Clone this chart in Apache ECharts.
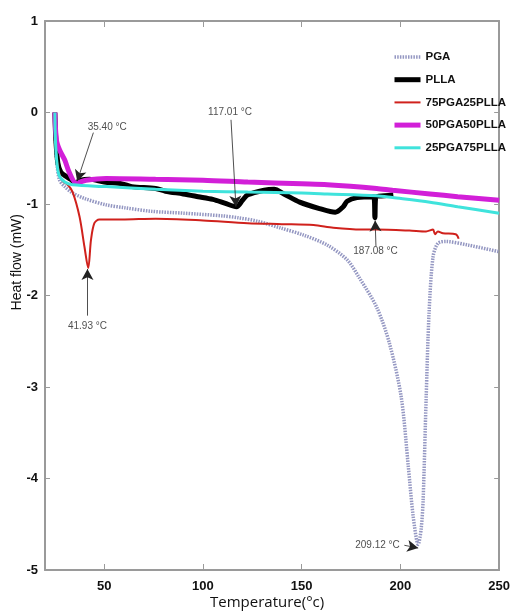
<!DOCTYPE html>
<html><head><meta charset="utf-8">
<script src="https://cdn.jsdelivr.net/npm/echarts@6/dist/echarts.min.js"></script>
<style>html,body{margin:0;padding:0;background:#fff}#c{width:513px;height:616px}</style>
</head><body><div id="c"></div>
<script>
// ---- data ----
const xTicks = [50, 100, 150, 200, 250];
const yTicks = [-5, -4, -3, -2, -1, 0, 1];
const seriesNames = ['PGA', 'PLLA', '75PGA25PLLA', '50PGA50PLLA', '25PGA75PLLA'];

const pgaT = [24.9,25.3,26,27.4,30,34,40,51,60,74,90,110,117.7,128,139,151,163,173,179,188,194.4,200.4,204,206.5,209,210.5,211.5,213,214.5,216.5,219,223,234.5,249.6];
const pgaV = [0,-0.3,-0.55,-0.74,-0.81,-0.88,-0.94,-1.01,-1.04,-1.08,-1.10,-1.13,-1.15,-1.19,-1.26,-1.34,-1.45,-1.61,-1.80,-2.13,-2.52,-3.11,-3.87,-4.42,-4.72,-4.55,-4.23,-3.14,-2.19,-1.58,-1.43,-1.41,-1.45,-1.52];

const pllaT = [25,25.5,26.5,28,30.8,33,35.4,38,42.5,50,59,64,76,81,90,97.6,105,111,117,120,122.7,131,136,141,149,159,167,171,173,178,186.5,187.08,187.6,192,196.4];
const pllaV = [0,-0.3,-0.55,-0.65,-0.70,-0.73,-0.77,-0.74,-0.73,-0.76,-0.78,-0.81,-0.83,-0.86,-0.89,-0.92,-0.95,-0.99,-1.03,-0.96,-0.90,-0.85,-0.84,-0.89,-0.98,-1.05,-1.09,-1.03,-0.97,-0.93,-0.92,-1.15,-0.92,-0.91,-0.90];

const p75T = [25,25.5,27,29,31.5,34,37.5,40,41.9,43.3,45,47.5,59,76,100,122.7,140,156,166,180,188,204.5,213,216.5,217.5,219,221.5,228,229.5];
const p75V = [0,-0.4,-0.65,-0.75,-0.79,-0.87,-1.14,-1.47,-1.70,-1.39,-1.21,-1.17,-1.17,-1.16,-1.18,-1.21,-1.22,-1.23,-1.26,-1.28,-1.28,-1.29,-1.30,-1.28,-1.33,-1.30,-1.32,-1.33,-1.38];

const p50T = [25,25.8,27.4,30,32.4,35.8,40.8,51,76,100,122.7,150,163,188,196,215,229,250];
const p50V = [0,-0.3,-0.41,-0.52,-0.66,-0.77,-0.74,-0.72,-0.73,-0.74,-0.76,-0.78,-0.79,-0.83,-0.85,-0.89,-0.92,-0.96];

const p25T = [25,25.5,27,30,34,51,76,100,122.7,150,163,188,196,215,229,250];
const p25V = [0,-0.4,-0.68,-0.76,-0.79,-0.81,-0.84,-0.86,-0.87,-0.88,-0.89,-0.91,-0.93,-0.98,-1.03,-1.10];

// annotations: text position and arrow (from -> to), in data units
const annText = ['35.40 °C', '117.01 °C', '41.93 °C', '187.08 °C', '209.12 °C'];
const annTextT = [51.5, 113.7, 41.5, 187.4, 188.4];
const annTextV = [-0.16, 0.0, -2.34, -1.52, -4.73];
const arrFromT = [44.5, 114.2, 41.5, 187.6, 202];
const arrFromV = [-0.22, -0.08, -2.22, -1.46, -4.73];
const arrToT = [36.3, 116.7, 41.5, 187.2, 209];
const arrToV = [-0.75, -1.03, -1.71, -1.18, -4.76];

function zip(a, b) { return a.map((v, i) => [v, b[i]]); }

const chart = echarts.init(document.getElementById('c'), null, {renderer: 'canvas'});
const tickFont = {fontFamily: 'Liberation Sans, sans-serif', fontWeight: 'bold', fontSize: 13, color: '#111'};
const axisLineStyle = {color: '#9a9a9a', width: 2};

const colors = ['#9497c2', '#000000', '#d0211c', '#d21fd8', '#3fe3dc'];
const widths = [3.5, 5, 2, 5, 3];

const option = {
  animation: false,
  backgroundColor: '#fff',
  grid: {left: 45, right: 10, top: 21, bottom: 46},
  legend: {
    orient: 'vertical', left: 387, top: 46, itemGap: 10.7, itemWidth: 26, itemHeight: 14,
    data: seriesNames.map((n, i) => ({name: n, lineStyle: {width: widths[i]}})),
    itemStyle: {color: 'rgba(0,0,0,0)', borderWidth: 0},
    textStyle: {fontFamily: 'Liberation Sans, sans-serif', fontWeight: 'bold', fontSize: 11.5, color: '#111'}
  },
  xAxis: [{
    type: 'value', min: 20, max: 250, position: 'bottom',
    axisLine: {show: true, onZero: false, lineStyle: axisLineStyle},
    axisTick: {show: true, inside: true, length: 6, customValues: xTicks, lineStyle: {color: '#9a9a9a'}},
    axisLabel: {show: true, customValues: xTicks, margin: 10, ...tickFont},
    splitLine: {show: false}
  }, {
    type: 'value', min: 20, max: 250, position: 'top',
    axisLine: {show: true, onZero: false, lineStyle: axisLineStyle},
    axisTick: {show: true, inside: true, length: 6, customValues: xTicks, lineStyle: {color: '#9a9a9a'}},
    axisLabel: {show: false},
    splitLine: {show: false}
  }],
  yAxis: [{
    type: 'value', min: -5, max: 1, interval: 1, position: 'left',
    axisLine: {show: true, onZero: false, lineStyle: axisLineStyle},
    axisTick: {show: true, inside: true, length: 5, lineStyle: {color: '#9a9a9a'}},
    axisLabel: {show: true, margin: 7, ...tickFont},
    splitLine: {show: false}
  }, {
    type: 'value', min: -5, max: 1, interval: 1, position: 'right',
    axisLine: {show: true, onZero: false, lineStyle: axisLineStyle},
    axisTick: {show: true, inside: true, length: 5, lineStyle: {color: '#9a9a9a'}},
    axisLabel: {show: false},
    splitLine: {show: false}
  }],
  graphic: [
    {type: 'text', left: 10, top: 214, rotation: Math.PI / 2,
     style: {text: 'Heat flow (mW)', font: '14px "Liberation Sans", sans-serif', fill: '#111'}},
    {type: 'text', left: 210, top: 595,
     style: {text: 'Temperature(°c)', font: '15px "Open Sans", sans-serif', fill: '#111'}}
  ],
  series: [
    {name: 'PGA', type: 'line', showSymbol: false, symbol: 'none', smooth: 0.3,
     data: zip(pgaT, pgaV), lineStyle: {color: colors[0], width: widths[0], type: [1.5, 1.2]}, itemStyle: {color: colors[0]}},
    {name: 'PLLA', type: 'line', showSymbol: false, symbol: 'none', smooth: 0.3,
     data: zip(pllaT, pllaV), lineStyle: {color: colors[1], width: widths[1]}, itemStyle: {color: colors[1]}},
    {name: '75PGA25PLLA', type: 'line', showSymbol: false, symbol: 'none', smooth: 0.3,
     data: zip(p75T, p75V), lineStyle: {color: colors[2], width: widths[2]}, itemStyle: {color: colors[2]}},
    {name: '50PGA50PLLA', type: 'line', showSymbol: false, symbol: 'none', smooth: 0.3,
     data: zip(p50T, p50V), lineStyle: {color: colors[3], width: widths[3]}, itemStyle: {color: colors[3]}},
    {name: '25PGA75PLLA', type: 'line', showSymbol: false, symbol: 'none', smooth: 0.3,
     data: zip(p25T, p25V), lineStyle: {color: colors[4], width: widths[4]}, itemStyle: {color: colors[4]}},
    {name: 'ann', type: 'scatter', symbolSize: 0, silent: true,
     data: annText.map((t, i) => ({value: [annTextT[i], annTextV[i]], name: t})),
     label: {show: true, position: 'inside', formatter: p => p.name,
             fontFamily: 'Liberation Sans, sans-serif', fontSize: 10, color: '#222'},
     markLine: {
       silent: true, symbol: ['none', 'arrow'], symbolSize: [9, 11], animation: false,
       lineStyle: {color: '#222', width: 0.8, type: 'solid'}, label: {show: false},
       data: arrFromT.map((t, i) => [{coord: [t, arrFromV[i]]}, {coord: [arrToT[i], arrToV[i]]}])
     }}
  ]
};
chart.setOption(option);
</script>
</body></html>
